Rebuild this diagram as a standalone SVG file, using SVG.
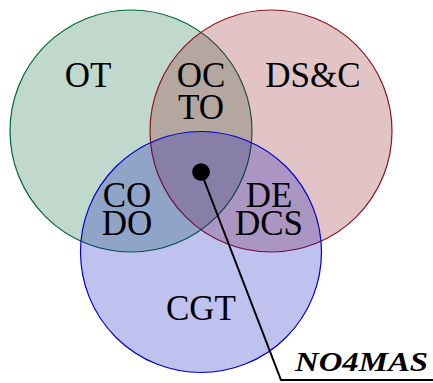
<svg xmlns="http://www.w3.org/2000/svg" width="433" height="383" viewBox="0 0 433 383">
  <style>
    .set { stroke-width: 1.2; fill-opacity: 0.25; }
    .lbl { font-family: "Liberation Serif", "DejaVu Serif", serif; font-size: 35px; fill: #000; text-anchor: middle; }
    .tag { font-family: "Liberation Serif", "DejaVu Serif", serif; font-size: 28px; font-weight: bold; font-style: italic; fill: #000; }
  </style>
  <rect width="433" height="383" fill="#ffffff"/>
  <g id="set-ot">
    <circle class="set" cx="131" cy="131" r="121" fill="#036733" stroke="#006633"/>
    <text class="lbl" x="88" y="87">OT</text>
  </g>
  <g id="set-dsc">
    <circle class="set" cx="271" cy="131" r="121" fill="#8f131b" stroke="#8f131b"/>
    <text class="lbl" x="313" y="87">DS&amp;C</text>
  </g>
  <g id="set-cgt">
    <circle class="set" cx="201" cy="252" r="120.5" fill="#0007bb" stroke="#0000cc"/>
    <text class="lbl" x="201" y="320">CGT</text>
  </g>
  <g id="overlap-labels">
    <text class="lbl" x="201" y="87">OC</text>
    <text class="lbl" x="201" y="119">TO</text>
    <text class="lbl" x="127" y="207">CO</text>
    <text class="lbl" x="127" y="235">DO</text>
    <text class="lbl" x="269" y="207">DE</text>
    <text class="lbl" x="269" y="235">DCS</text>
  </g>
  <g id="connectors">
    <polyline points="201,172 281,380 433,380" fill="none" stroke="#000" stroke-width="2"/>
  </g>
  <g id="core">
    <circle cx="201" cy="172" r="8.8" fill="#000"/>
    <text class="tag" x="295" y="371" textLength="133" lengthAdjust="spacingAndGlyphs">NO4MAS</text>
  </g>
</svg>
